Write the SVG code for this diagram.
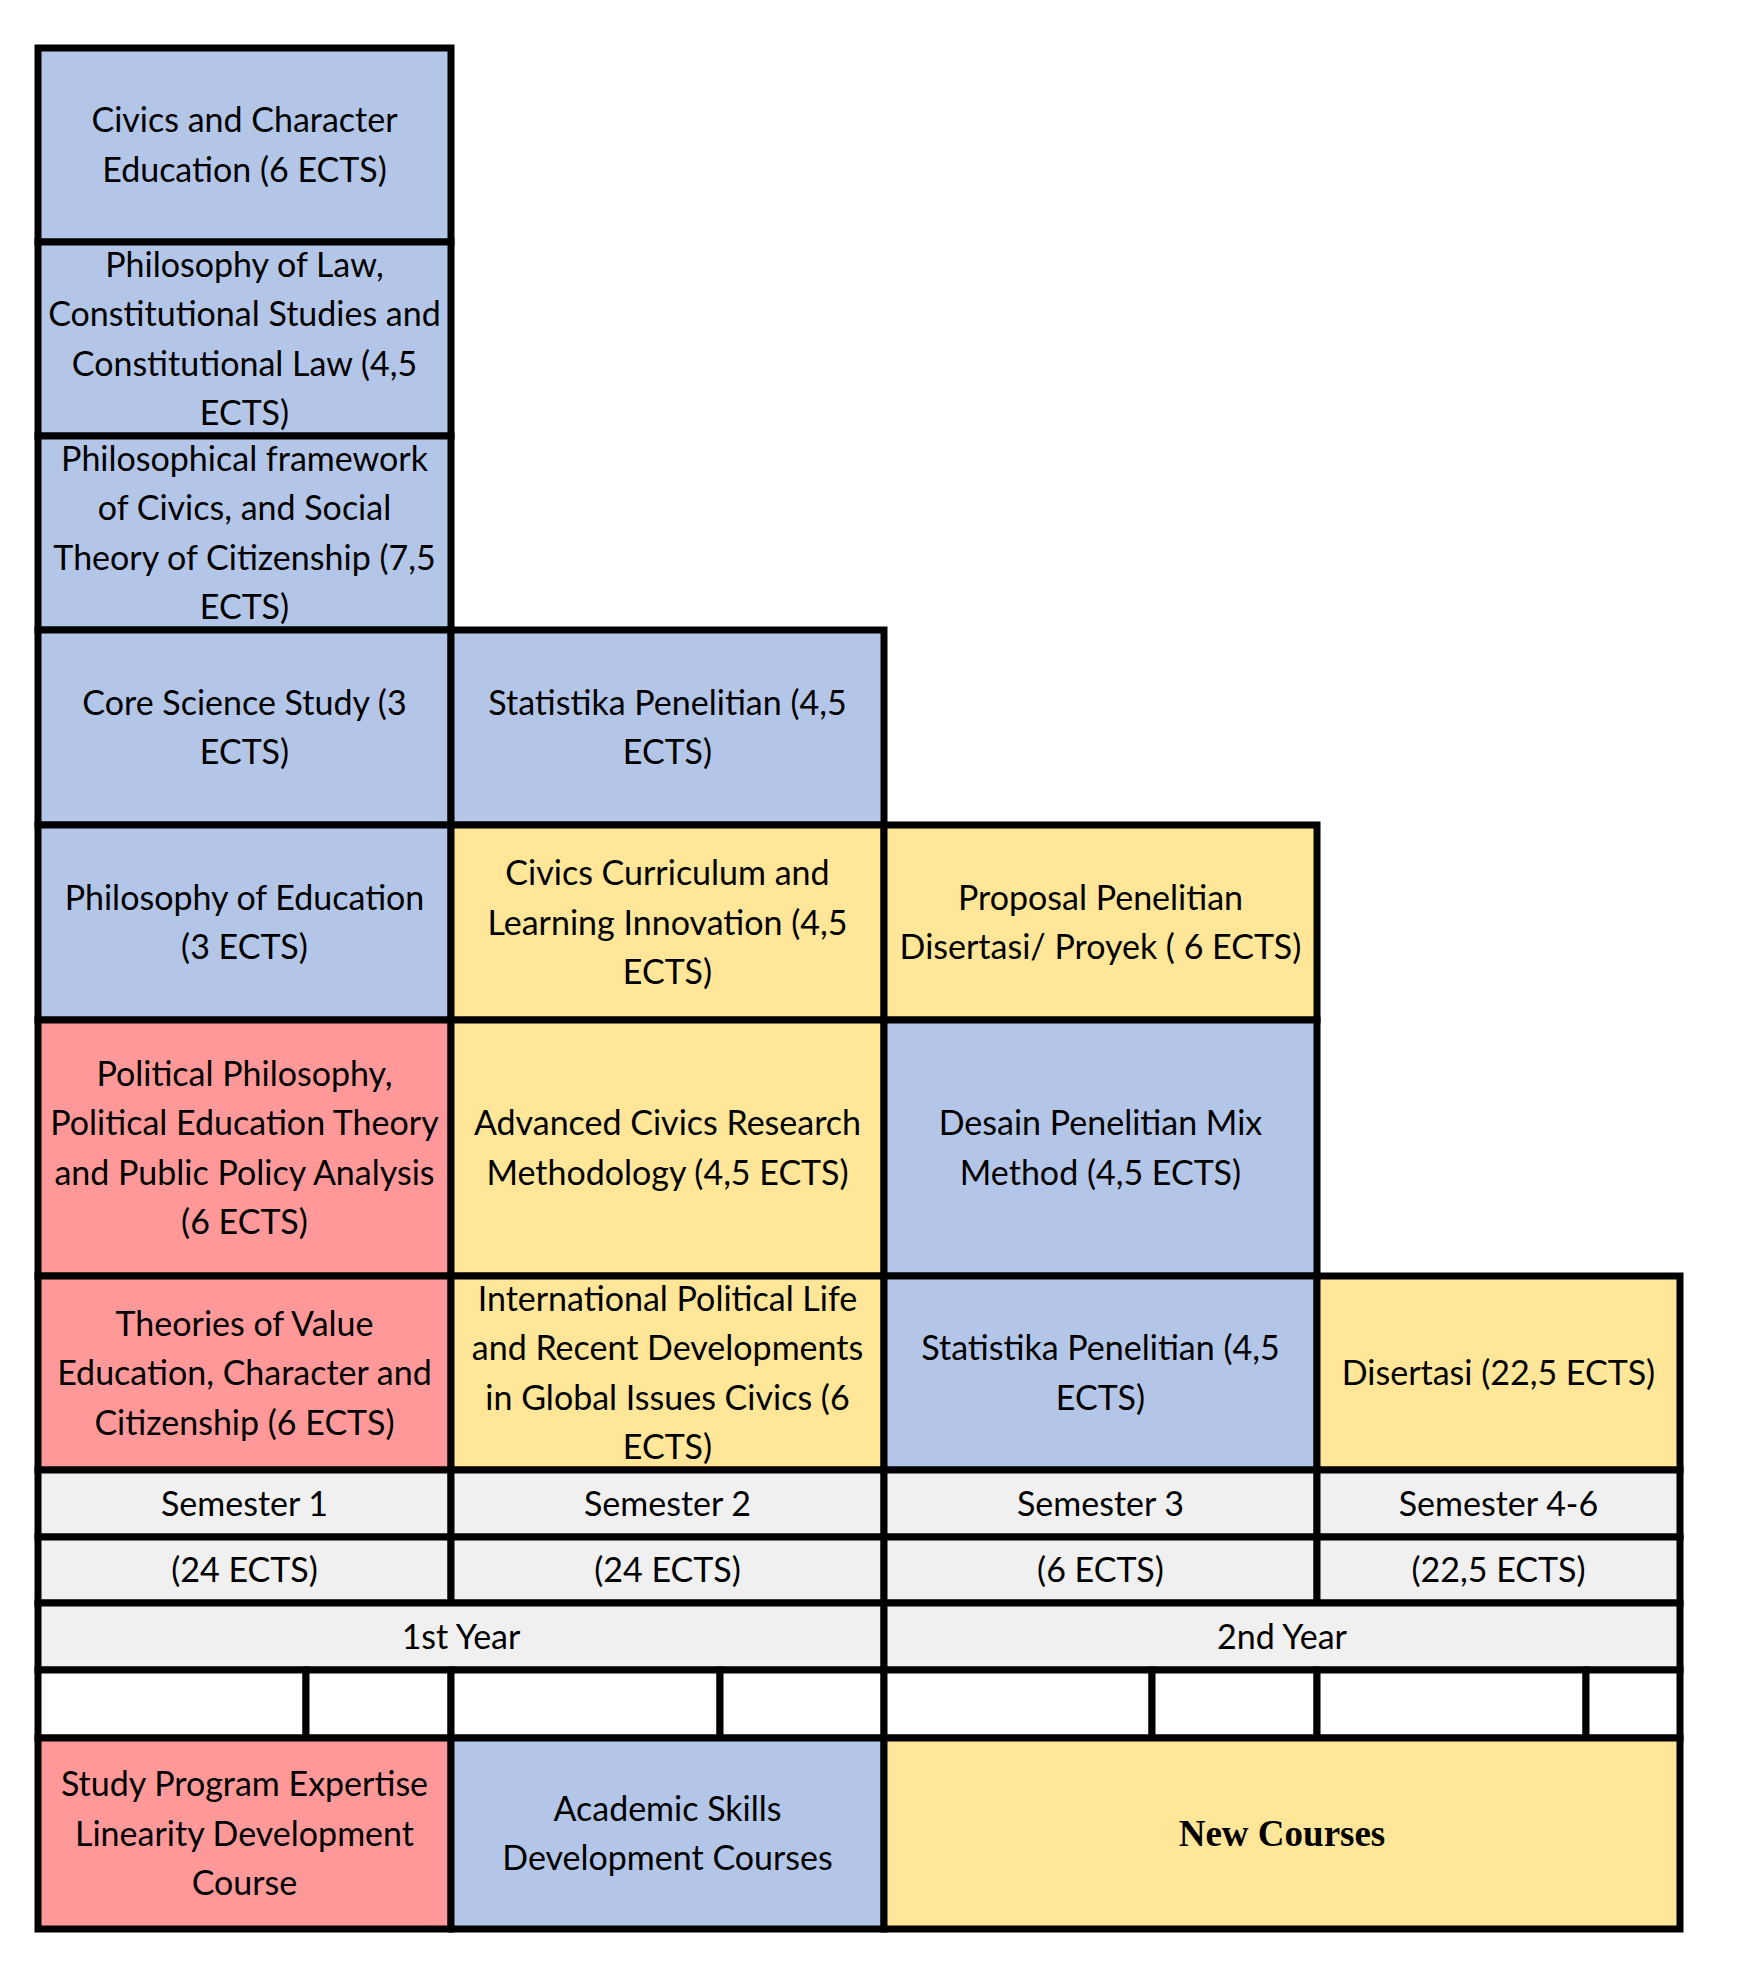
<svg xmlns="http://www.w3.org/2000/svg" width="1738" height="1975" viewBox="0 0 1738 1975">
<style>
.c{stroke:#000;stroke-width:7}
.b{fill:#B4C6E7}
.y{fill:#FFE699}
.r{fill:#FF9999}
.g{fill:#F0F0F0}
.w{fill:#FFFFFF}
text{font-family:Lato,"Open Sans",sans-serif;font-size:34px;text-anchor:middle;fill:#000}
.nc{font-family:"Liberation Serif","Times New Roman",serif;font-weight:bold;font-size:37px}
</style>
<rect width="1738" height="1975" fill="#fff"/>
<g id="connectors"/>
<g id="n1"><rect class="c b" x="38" y="48" width="413" height="194"/><text x="244.5" y="132">Civics and Character</text><text x="244.5" y="182">Education (6 ECTS)</text></g>
<g id="n2"><rect class="c b" x="38" y="242" width="413" height="194"/><text x="244.5" y="277">Philosophy of Law,</text><text x="244.5" y="326">Constitutional Studies and</text><text x="244.5" y="376">Constitutional Law (4,5</text><text x="244.5" y="425">ECTS)</text></g>
<g id="n3"><rect class="c b" x="38" y="436" width="413" height="194"/><text x="244.5" y="471">Philosophical framework</text><text x="244.5" y="520">of Civics, and Social</text><text x="244.5" y="570">Theory of Citizenship (7,5</text><text x="244.5" y="619">ECTS)</text></g>
<g id="n4"><rect class="c b" x="38" y="630" width="413" height="195"/><text x="244.5" y="715">Core Science Study (3</text><text x="244.5" y="764">ECTS)</text></g>
<g id="n5"><rect class="c b" x="38" y="825" width="413" height="195"/><text x="244.5" y="910">Philosophy of Education</text><text x="244.5" y="959">(3 ECTS)</text></g>
<g id="n6"><rect class="c r" x="38" y="1020" width="413" height="256"/><text x="244.5" y="1086">Political Philosophy,</text><text x="244.5" y="1135">Political Education Theory</text><text x="244.5" y="1185">and Public Policy Analysis</text><text x="244.5" y="1234">(6 ECTS)</text></g>
<g id="n7"><rect class="c r" x="38" y="1276" width="413" height="194"/><text x="244.5" y="1336">Theories of Value</text><text x="244.5" y="1385">Education, Character and</text><text x="244.5" y="1435">Citizenship (6 ECTS)</text></g>

<g id="n8"><rect class="c b" x="451" y="630" width="433" height="195"/><text x="667.5" y="715">Statistika Penelitian (4,5</text><text x="667.5" y="764">ECTS)</text></g>
<g id="n9"><rect class="c y" x="451" y="825" width="433" height="195"/><text x="667.5" y="885">Civics Curriculum and</text><text x="667.5" y="935">Learning Innovation (4,5</text><text x="667.5" y="984">ECTS)</text></g>
<g id="n10"><rect class="c y" x="451" y="1020" width="433" height="256"/><text x="667.5" y="1135">Advanced Civics Research</text><text x="667.5" y="1185">Methodology (4,5 ECTS)</text></g>
<g id="n11"><rect class="c y" x="451" y="1276" width="433" height="194"/><text x="667.5" y="1311">International Political Life</text><text x="667.5" y="1360">and Recent Developments</text><text x="667.5" y="1410">in Global Issues Civics (6</text><text x="667.5" y="1459">ECTS)</text></g>

<g id="n12"><rect class="c y" x="884" y="825" width="433" height="195"/><text x="1100.5" y="910">Proposal Penelitian</text><text x="1100.5" y="959">Disertasi/ Proyek ( 6 ECTS)</text></g>
<g id="n13"><rect class="c b" x="884" y="1020" width="433" height="256"/><text x="1100.5" y="1135">Desain Penelitian Mix</text><text x="1100.5" y="1185">Method (4,5 ECTS)</text></g>
<g id="n14"><rect class="c b" x="884" y="1276" width="433" height="194"/><text x="1100.5" y="1360">Statistika Penelitian (4,5</text><text x="1100.5" y="1410">ECTS)</text></g>

<g id="n15"><rect class="c y" x="1317" y="1276" width="363" height="194"/><text x="1498.5" y="1385">Disertasi (22,5 ECTS)</text></g>

<g id="sem1"><rect class="c g" x="38" y="1470" width="413" height="67"/><text x="244.5" y="1516">Semester 1</text></g>
<g id="sem2"><rect class="c g" x="451" y="1470" width="433" height="67"/><text x="667.5" y="1516">Semester 2</text></g>
<g id="sem3"><rect class="c g" x="884" y="1470" width="433" height="67"/><text x="1100.5" y="1516">Semester 3</text></g>
<g id="sem4"><rect class="c g" x="1317" y="1470" width="363" height="67"/><text x="1498.5" y="1516">Semester 4-6</text></g>

<g id="ects1"><rect class="c g" x="38" y="1537" width="413" height="66"/><text x="244.5" y="1582">(24 ECTS)</text></g>
<g id="ects2"><rect class="c g" x="451" y="1537" width="433" height="66"/><text x="667.5" y="1582">(24 ECTS)</text></g>
<g id="ects3"><rect class="c g" x="884" y="1537" width="433" height="66"/><text x="1100.5" y="1582">(6 ECTS)</text></g>
<g id="ects4"><rect class="c g" x="1317" y="1537" width="363" height="66"/><text x="1498.5" y="1582">(22,5 ECTS)</text></g>

<g id="year1"><rect class="c g" x="38" y="1603" width="846" height="67"/><text x="461" y="1649">1st Year</text></g>
<g id="year2"><rect class="c g" x="884" y="1603" width="796" height="67"/><text x="1282" y="1649">2nd Year</text></g>

<g id="blank">
<rect class="c w" x="38" y="1670" width="268" height="68"/>
<rect class="c w" x="306" y="1670" width="145" height="68"/>
<rect class="c w" x="451" y="1670" width="269" height="68"/>
<rect class="c w" x="720" y="1670" width="164" height="68"/>
<rect class="c w" x="884" y="1670" width="268" height="68"/>
<rect class="c w" x="1152" y="1670" width="165" height="68"/>
<rect class="c w" x="1317" y="1670" width="269" height="68"/>
<rect class="c w" x="1586" y="1670" width="94" height="68"/>
</g>

<g id="legend1"><rect class="c r" x="38" y="1738" width="413" height="191"/><text x="244.5" y="1796">Study Program Expertise</text><text x="244.5" y="1846">Linearity Development</text><text x="244.5" y="1895">Course</text></g>
<g id="legend2"><rect class="c b" x="451" y="1738" width="433" height="191"/><text x="667.5" y="1821">Academic Skills</text><text x="667.5" y="1870">Development Courses</text></g>
<g id="legend3"><rect class="c y" x="884" y="1738" width="796" height="191"/><text class="nc" x="1282" y="1846">New Courses</text></g>
</svg>
